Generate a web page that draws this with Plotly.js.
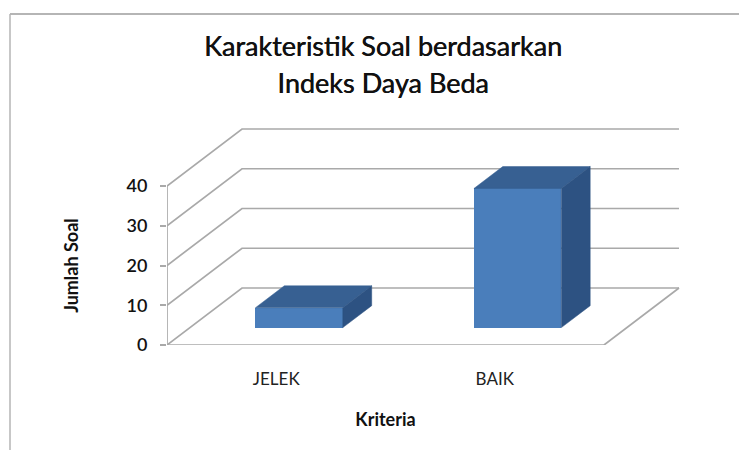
<!DOCTYPE html>
<html>
<head>
<meta charset="utf-8">
<script src="https://cdn.plot.ly/plotly-3.0.1.min.js"></script>
<style>html,body{margin:0;padding:0;background:#fff}#chart{width:739px;height:450px}</style>
</head>
<body>
<div id="chart"></div>
<script>
const categories = ["JELEK", "BAIK"];
const values = [5, 35];
const yTicks = [0, 10, 20, 30, 40];
const titleLines = ["Karakteristik Soal berdasarkan", "Indeks Daya Beda"];
const xTitle = "Kriteria";
const yTitle = "Jumlah Soal";

const W = 739, H = 450;
// outer box holds the whole oblique drawing, front box is the front plane of the chart
const box = {l: 167, r: 680, t: 127, b: 345};
const frontBox = {r: 604, t: 186};
const xUnit = (frontBox.r - box.l) / categories.length;  // px per category
const yUnit = (box.b - frontBox.t) / 40;                 // px per value unit
const depthX = 75 / xUnit, depthY = 57 / yUnit;          // oblique depth in data units
const barWidth = 0.4, nearDepth = 0.305, farDepth = 0.69;
const font = "Lato, 'Noto Sans', sans-serif";
const grid = "#a9a9a9", front = "#4a7ebb", topFace = "#376092", sideFace = "#2d5282";

const xr = [0, categories.length], yr = [0, 40];
const xrAll = [0, (box.r - box.l) / xUnit], yrAll = [0, (box.b - box.t) / yUnit];

const proj = (x, y, d) => [x + d * depthX, y + d * depthY];
const poly = pts => ({x: pts.map(p => p[0]), y: pts.map(p => p[1])});
const centers = categories.map((c, i) => i + 0.5);

const traces = [];
// Invisible trace that anchors the front-plane axes (ticks, labels, titles)
traces.push({type: "scatter", mode: "none", x: centers, y: values, hoverinfo: "skip", showlegend: false});

const lineTrace = p => ({type: "scatter", mode: "lines", xaxis: "x2", yaxis: "y2", x: p.x, y: p.y,
  line: {color: grid, width: 1.7}, hoverinfo: "skip", showlegend: false});
yTicks.forEach(t => {
  traces.push(lineTrace(poly([proj(0, t, 0), proj(0, t, 1), proj(categories.length, t, 1)])));
});
traces.push(lineTrace(poly([proj(0, 0, 0), proj(categories.length, 0, 0), proj(categories.length, 0, 1)])));
traces.push(lineTrace(poly([proj(0, 0, 0), proj(0, yTicks[yTicks.length - 1], 0)])));

// Bars on an overlay pair, so that they sit above the gridlines
traces.push({type: "bar", xaxis: "x3", yaxis: "y3",
  x: centers.map(c => proj(c, 0, nearDepth)[0]),
  y: values,
  base: values.map(() => proj(0, 0, nearDepth)[1]),
  width: barWidth,
  marker: {color: front, line: {width: 0}},
  hovertemplate: "%{y}<extra></extra>", showlegend: false});
values.forEach((v, i) => {
  const x0 = centers[i] - barWidth / 2, x1 = centers[i] + barWidth / 2;
  const topP = poly([proj(x0, v, nearDepth), proj(x0, v, farDepth), proj(x1, v, farDepth), proj(x1, v, nearDepth), proj(x0, v, nearDepth)]);
  const sideP = poly([proj(x1, 0, nearDepth), proj(x1, v, nearDepth), proj(x1, v, farDepth), proj(x1, 0, farDepth), proj(x1, 0, nearDepth)]);
  [[topP, topFace], [sideP, sideFace]].forEach(([p, color]) => {
    traces.push({type: "scatter", mode: "lines", xaxis: "x3", yaxis: "y3", x: p.x, y: p.y,
      fill: "toself", fillcolor: color, line: {color: color, width: 0.5},
      hoverinfo: "skip", showlegend: false});
  });
});

const px = x => (x - box.l) / (box.r - box.l);
const py = y => (box.b - y) / (box.b - box.t);
const layout = {
  width: W, height: H,
  paper_bgcolor: "#fff", plot_bgcolor: "rgba(0,0,0,0)",
  margin: {l: box.l, r: W - box.r, t: box.t, b: H - box.b},
  showlegend: false, bargap: 0,
  title: {
    text: titleLines.map(s => '<span style="font-size:27px">' + s + '</span>').join("<br>"),
    font: {family: font, size: 29, color: "#111", shadow: "0.5px 0 0 #111"},
    x: 383 / W, xanchor: "center", y: 1 - 55.5 / H, yanchor: "middle", automargin: false
  },
  xaxis: {
    domain: [0, px(frontBox.r)], anchor: "y",
    range: xr, tickmode: "array", tickvals: centers, ticktext: categories,
    showgrid: false, zeroline: false, showline: false,
    ticks: "", ticklabelstandoff: 22,
    tickfont: {family: font, size: 17, color: "#222"},
    title: {text: xTitle, standoff: 25, font: {family: font, size: 18, color: "#111", weight: 700}}
  },
  yaxis: {
    domain: [0, py(frontBox.t)], anchor: "x",
    range: yr, tickmode: "array", tickvals: yTicks, ticktext: yTicks.map(String),
    showgrid: false, zeroline: false, showline: false,
    ticks: "outside", ticklen: 6, tickcolor: grid, tickwidth: 1.5, ticklabelstandoff: 9,
    tickfont: {family: font, size: 18, color: "#111", weight: 600},
    title: {text: yTitle, standoff: 43, font: {family: font, size: 18, color: "#111", weight: 700}}
  },
  xaxis2: {domain: [0, 1], range: xrAll, anchor: "y2", visible: false, fixedrange: true},
  yaxis2: {domain: [0, 1], range: yrAll, anchor: "x2", visible: false, fixedrange: true},
  xaxis3: {range: xrAll, overlaying: "x2", anchor: "y3", visible: false, fixedrange: true},
  yaxis3: {range: yrAll, overlaying: "y2", anchor: "x3", visible: false, fixedrange: true},
  shapes: [
    {type: "line", xref: "paper", yref: "paper", x0: px(10), x1: px(739), y0: py(14), y1: py(14), line: {color: "#b5b5b5", width: 2}},
    {type: "line", xref: "paper", yref: "paper", x0: px(10), x1: px(10), y0: py(14), y1: py(450), line: {color: "#b5b5b5", width: 1.5}}
  ]
};
Plotly.newPlot("chart", traces, layout, {displayModeBar: false, responsive: false});
</script>
</body>
</html>
